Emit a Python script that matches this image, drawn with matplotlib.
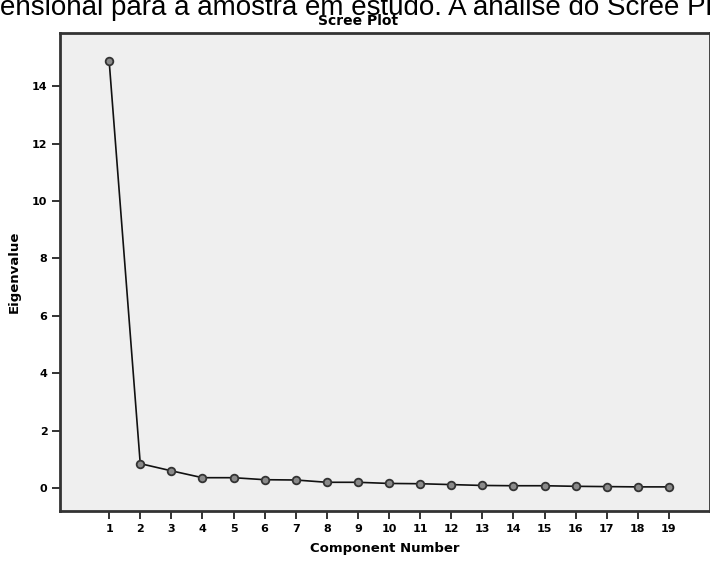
import matplotlib.pyplot as plt

# eigenvalues
components = list(range(1, 20))
eigenvalues = [14.88, 0.85, 0.60, 0.36, 0.36, 0.29, 0.28, 0.20, 0.20, 0.16,
               0.15, 0.12, 0.09, 0.08, 0.08, 0.06, 0.05, 0.04, 0.04]
y_ticks = [0, 2, 4, 6, 8, 10, 12, 14]

fig = plt.figure(figsize=(7.1, 5.66), dpi=100)

# piece of the document text above the figure (cut off at the edges)
fig.text(0.0, 1 - 15 / 566, "ensional para a amostra em estudo. A análise do Scree Plot",
         fontsize=20, family="Liberation Sans", ha="left", va="baseline", color="black")

ax = fig.add_axes([60 / 710, 1 - 511 / 566, 650 / 710, 478 / 566])
ax.set_facecolor("#efefef")

ax.plot(components, eigenvalues, color="#111111", linewidth=1.2,
        marker="o", markersize=5.5, markerfacecolor="#8a8a8a",
        markeredgecolor="#333333", markeredgewidth=1.3)

ax.set_xlim(-0.58, 20.32)
ax.set_ylim(-0.80, 15.85)
ax.set_xticks(components)
ax.set_yticks(y_ticks)
ax.tick_params(direction="out", length=6, width=1.3, color="#222222",
               labelsize=8, pad=3)
for lbl in ax.get_xticklabels() + ax.get_yticklabels():
    lbl.set_fontweight("heavy")

for s in ax.spines.values():
    s.set_linewidth(2)
    s.set_color("#333333")

ax.set_xlabel("Component Number", fontsize=9.5, fontweight="heavy", labelpad=6)
ax.set_ylabel("Eigenvalue", fontsize=9.5, fontweight="heavy", labelpad=8)
fig.text(358 / 710, 1 - 21 / 566, "Scree Plot", fontsize=10, fontweight="heavy",
         ha="center", va="center")

plt.savefig("out.png", dpi=100)
